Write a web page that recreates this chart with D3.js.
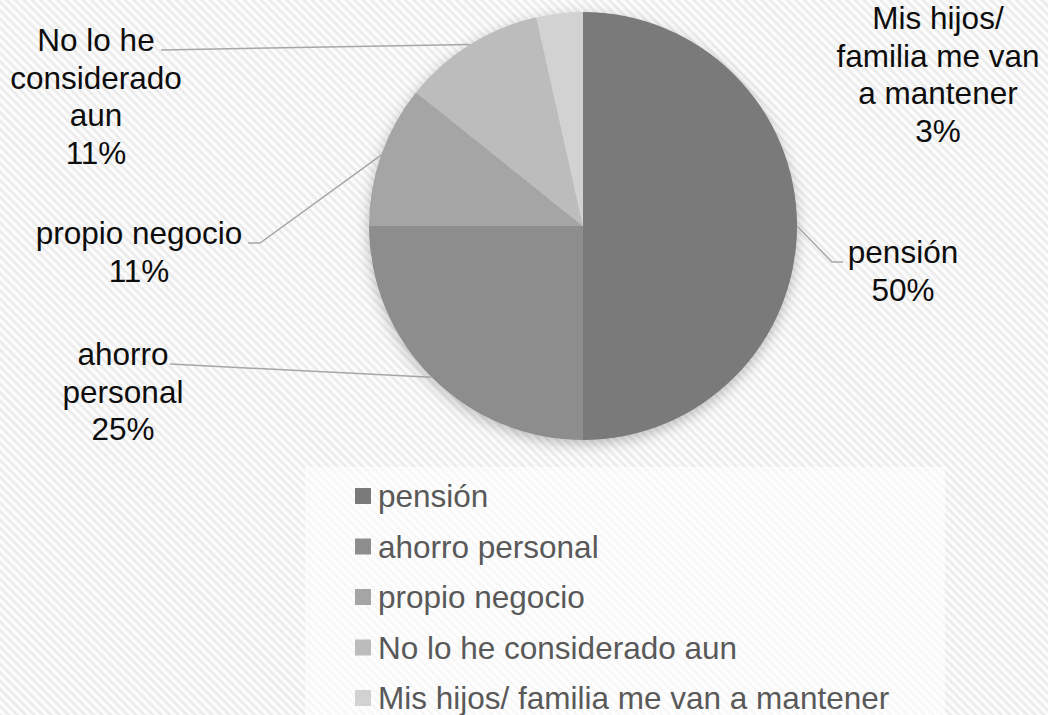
<!DOCTYPE html>
<html>
<head>
<meta charset="utf-8">
<script src="https://cdn.jsdelivr.net/npm/d3@7"></script>
<style>
  body { margin: 0; background: #fff; }
  text { font-family: "Liberation Sans", Arial, sans-serif; }
</style>
</head>
<body>
<div id="app"></div>
<script>
// data
const categories = ["pensión", "ahorro personal", "propio negocio", "No lo he considerado aun", "Mis hijos/ familia me van a mantener"];
const values = [50, 25, 10.75, 10.75, 3.5];
const pctLabels = ["50%", "25%", "11%", "11%", "3%"];
const labelLines = [
    ["pensión"],
    ["ahorro", "personal"],
    ["propio negocio"],
    ["No lo he", "considerado", "aun"],
    ["Mis hijos/", "familia me van", "a mantener"]
];
const colors = ["#7a7a7a", "#8d8d8d", "#a5a5a5", "#bcbcbc", "#d2d2d2"];

// sizing
const width = 1048;
const height = 715;
const cx = 583, cy = 226, radius = 214;
const fontSize = 31.5;
const lineH = 37.5;

// label layout: center x, first baseline y, leader end points (null = no line)
const labelLayout = [
    {x: 903, y: 263, leader: [[832, 262], [843, 262]]},
    {x: 123, y: 365, leader: [[170, 364]]},
    {x: 139, y: 244, leader: [[260, 243], [248, 243]]},
    {x: 96, y: 51, leader: [[161, 50]]},
    {x: 938, y: 29, leader: null}
];

const svg = d3.select("#app")
  .append("svg")
    .attr("width", width)
    .attr("height", height);

const defs = svg.append("defs");

// diagonal stripe background
const pat = defs.append("pattern")
    .attr("id", "stripes")
    .attr("patternUnits", "userSpaceOnUse")
    .attr("width", 6)
    .attr("height", 6)
    .attr("patternTransform", "rotate(45)");
pat.append("rect").attr("width", 6).attr("height", 6).attr("fill", "#fcfcfc");
pat.append("rect").attr("width", 6).attr("height", 2.6).attr("fill", "#ebebeb");

const shadow = defs.append("filter")
    .attr("id", "shadow")
    .attr("x", "-20%").attr("y", "-20%")
    .attr("width", "140%").attr("height", "140%");
shadow.append("feGaussianBlur").attr("in", "SourceAlpha").attr("stdDeviation", 7);
shadow.append("feOffset").attr("dx", 0).attr("dy", 4).attr("result", "blur");
shadow.append("feComponentTransfer").append("feFuncA").attr("type", "linear").attr("slope", 0.25);
const merge = shadow.append("feMerge");
merge.append("feMergeNode");
merge.append("feMergeNode").attr("in", "SourceGraphic");

svg.append("rect")
    .attr("width", width)
    .attr("height", height)
    .attr("fill", "url(#stripes)");

// legend panel (lighter)
svg.append("rect")
    .attr("x", 305).attr("y", 467)
    .attr("width", 640).attr("height", 248)
    .attr("fill", "#fff")
    .attr("opacity", 0.6);

// pie
const pie = d3.pie().sort(null).value(d => d);
const arcs = pie(values);
const arc = d3.arc().innerRadius(0).outerRadius(radius);

const g = svg.append("g")
    .attr("transform", `translate(${cx},${cy})`);

g.append("g")
    .attr("filter", "url(#shadow)")
  .selectAll("path")
  .data(arcs)
  .enter().append("path")
    .attr("d", arc)
    .attr("fill", (d, i) => colors[i]);

// leader lines
arcs.forEach((d, i) => {
    const lay = labelLayout[i];
    if (!lay.leader) return;
    const mid = (d.startAngle + d.endAngle) / 2;
    const start = [cx + radius * Math.sin(mid), cy - radius * Math.cos(mid)];
    const pts = [start].concat(lay.leader);
    svg.append("path")
        .attr("d", d3.line()(pts))
        .attr("fill", "none")
        .attr("stroke", "#a6a6a6")
        .attr("stroke-width", 1.5);
});

// data labels
categories.forEach((c, i) => {
    const lay = labelLayout[i];
    const lines = labelLines[i].concat([pctLabels[i]]);
    const t = svg.append("text")
        .attr("text-anchor", "middle")
        .attr("font-size", fontSize)
        .attr("fill", "#0d0d0d");
    lines.forEach((ln, j) => {
        t.append("tspan")
            .attr("x", lay.x)
            .attr("y", lay.y + j * lineH)
            .text(ln);
    });
});

// legend
const legY = d3.scalePoint()
    .domain(categories)
    .range([507, 709]);

const leg = svg.append("g")
  .selectAll("g")
  .data(categories)
  .enter().append("g");

leg.append("rect")
    .attr("x", 355)
    .attr("y", d => legY(d) - 19)
    .attr("width", 16)
    .attr("height", 16)
    .attr("fill", (d, i) => colors[i]);

leg.append("text")
    .attr("x", 378)
    .attr("y", d => legY(d))
    .attr("font-size", fontSize)
    .attr("fill", "#595959")
    .text(d => d);
</script>
</body>
</html>
